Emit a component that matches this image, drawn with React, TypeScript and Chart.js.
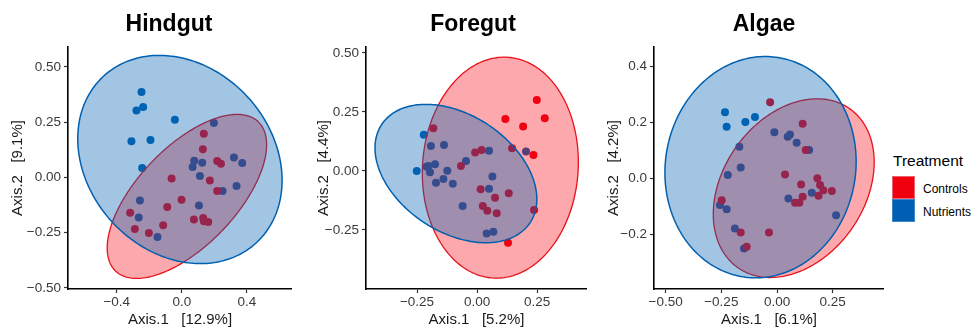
import React, { useEffect, useRef } from 'react';
import { Chart, registerables } from 'chart.js';

Chart.register(...registerables);

const FONT = "'Liberation Sans', Arial, Helvetica, sans-serif";

// ---------- Data ----------
const treatments = ['Controls', 'Nutrients'];

// Hindgut
const hindgutControls: [number, number][] = [
  [0.135, 0.198], [0.129, 0.127], [0.217, 0.074], [0.24, 0.062], [-0.063, -0.005],
  [0.172, -0.014], [0.217, -0.062], [-0.002, -0.101], [-0.09, -0.134], [-0.318, -0.16],
  [-0.289, -0.234], [-0.203, -0.252], [-0.115, -0.217], [0.074, -0.19], [0.131, -0.184],
  [0.135, -0.198], [0.162, -0.202],
];
const hindgutNutrients: [number, number][] = [
  [-0.248, 0.386], [-0.279, 0.303], [-0.238, 0.318], [-0.043, 0.261], [-0.31, 0.163],
  [-0.193, 0.169], [0.197, 0.246], [-0.244, 0.042], [0.076, 0.075], [0.125, 0.066],
  [0.066, 0.047], [0.111, 0.006], [0.32, 0.09], [0.371, 0.065], [0.336, -0.039],
  [0.25, -0.062], [-0.258, -0.104], [0.105, -0.127], [-0.265, -0.182], [-0.15, -0.27],
];
// ellipse: [centre x, centre y, half-width, half-height, tilt]
const hindgutControlsEllipse = [0.031, -0.086, 0.49, 0.371, 0.63];
const hindgutNutrientsEllipse = [-0.012, 0.081, 0.628, 0.471, -0.2];
const hindgutXTicks = [-0.4, 0, 0.4];
const hindgutYTicks = [-0.5, -0.25, 0, 0.25, 0.5];

// Foregut
const foregutControls: [number, number][] = [
  [0.249, 0.3], [0.118, 0.22], [0.282, 0.223], [0.192, 0.188], [0.235, 0.068],
  [0.146, 0.096], [0.132, -0.094], [0.2375, -0.165], [0.129, -0.304], [-0.182, 0.181],
  [-0.008, 0.078], [0.019, 0.089], [-0.067, 0.021], [0.015, -0.078], [0.075, -0.113],
  [0.024, -0.148], [0.043, -0.169], [0.082, -0.179],
];
const foregutNutrients: [number, number][] = [
  [-0.222, 0.153], [-0.251, 0.0], [-0.192, 0.106], [-0.1375, 0.11], [-0.203, 0.021],
  [-0.175, 0.028], [-0.196, -0.006], [-0.21, 0.018], [-0.124, 0.001], [-0.171, -0.05],
  [-0.14, -0.034], [-0.101, -0.054], [-0.046, 0.042], [0.05, 0.086], [0.064, -0.023],
  [0.05, -0.075], [-0.06, -0.148], [0.04, -0.265], [0.068, -0.257], [0.204, 0.082],
];
const foregutControlsEllipse = [0.097, 0.014, 0.325, 0.468, 0.05];
const foregutNutrientsEllipse = [-0.088, -0.011, 0.337, 0.293, -0.37];
const foregutXTicks = [-0.25, 0, 0.25];
const foregutYTicks = [-0.25, 0, 0.25, 0.5];

// Algae
const algaeControls: [number, number][] = [
  [-0.031, 0.271], [0.115, 0.194], [0.129, 0.1], [0.036, 0.013], [0.108, -0.023],
  [0.181, -0.001], [0.193, -0.025], [0.208, -0.043], [0.246, -0.046], [0.186, -0.063],
  [0.115, -0.067], [0.081, -0.088], [0.1, -0.088], [-0.248, -0.079], [-0.163, -0.194],
  [-0.036, -0.194], [-0.136, -0.245],
];
const algaeNutrients: [number, number][] = [
  [-0.2335, 0.235], [-0.226, 0.183], [-0.142, 0.2], [-0.099, 0.218], [-0.012, 0.164],
  [0.048, 0.148], [0.058, 0.156], [0.088, 0.126], [0.144, 0.1], [-0.169, 0.112],
  [-0.163, 0.038], [-0.221, 0.011], [-0.256, -0.096], [-0.226, -0.111], [-0.189, -0.18],
  [-0.148, -0.251], [0.051, -0.073], [0.156, -0.052], [0.265, -0.133],
];
const algaeControlsEllipse = [0.075, -0.036, 0.361, 0.319, 0.29];
const algaeNutrientsEllipse = [-0.074, 0.039, 0.429, 0.395, 0.05];
const algaeXTicks = [-0.5, -0.25, 0, 0.25];
const algaeYTicks = [-0.2, 0, 0.2, 0.4];

// ---------- Styles ----------
const RED = '#EC0014';
const BLUE = '#0062B2';
const RED_FILL = 'rgba(248, 0, 12, 0.34)';
const BLUE_FILL = 'rgba(0, 98, 178, 0.37)';
const RED_STROKE = '#E8101A';
const BLUE_STROKE = '#0060B0';

const fmt = (v: number, dec: number) => (v < 0 ? '\u2212' : '') + Math.abs(v).toFixed(dec);

const ellipsePlugin = {
  id: 'groupEllipses',
  afterDatasetsDraw(chart: any, _args: any, opts: any) {
    const { ctx, chartArea, scales } = chart;
    const xs = scales.x;
    const ys = scales.y;
    ctx.save();
    ctx.beginPath();
    ctx.rect(chartArea.left, chartArea.top, chartArea.right - chartArea.left, chartArea.bottom - chartArea.top);
    ctx.clip();
    (opts.items || []).forEach((item: any) => {
      const [cx, cy, rx, ry, tilt] = item.params;
      const phi = Math.acos(tilt);
      const N = 240;
      ctx.beginPath();
      for (let i = 0; i <= N; i++) {
        const t = (i / N) * Math.PI * 2;
        const px = xs.getPixelForValue(cx + rx * Math.cos(t));
        const py = ys.getPixelForValue(cy + ry * Math.cos(t - phi));
        if (i === 0) ctx.moveTo(px, py);
        else ctx.lineTo(px, py);
      }
      ctx.closePath();
      ctx.fillStyle = item.fill;
      ctx.fill();
      ctx.strokeStyle = item.stroke;
      ctx.lineWidth = item.lineWidth;
      ctx.stroke();
    });
    ctx.restore();
  },
};

type PanelProps = {
  left: number;
  width: number;
  yAxisWidth: number;
  yTitlePad: number;
  controls: [number, number][];
  nutrients: [number, number][];
  controlsEllipse: number[];
  nutrientsEllipse: number[];
  xTicks: number[];
  yTicks: number[];
  xDec: number;
  yDec: number;
  xMin: number;
  xMax: number;
  yMin: number;
  yMax: number;
  xLabel: string;
  yLabel: string;
};

function Panel(p: PanelProps) {
  const ref = useRef<HTMLCanvasElement>(null);
  useEffect(() => {
    const canvas = ref.current;
    if (!canvas) return;
    const chart = new Chart(canvas, {
      type: 'scatter',
      data: {
        datasets: [
          {
            label: treatments[0],
            data: p.controls.map(([x, y]) => ({ x, y })),
            backgroundColor: RED,
            borderWidth: 0,
            pointRadius: 4,
          },
          {
            label: treatments[1],
            data: p.nutrients.map(([x, y]) => ({ x, y })),
            backgroundColor: BLUE,
            borderWidth: 0,
            pointRadius: 4,
          },
        ],
      },
      options: {
        animation: false,
        responsive: false,
        devicePixelRatio: 1,
        events: [],
        layout: { padding: { left: 0, right: 0, top: 47, bottom: 0 }, autoPadding: false },
        plugins: {
          legend: { display: false },
          title: { display: false },
          tooltip: { enabled: false },
          groupEllipses: {
            items: [
              { params: p.controlsEllipse, fill: RED_FILL, stroke: RED_STROKE, lineWidth: 1.3 },
              { params: p.nutrientsEllipse, fill: BLUE_FILL, stroke: BLUE_STROKE, lineWidth: 1.5 },
            ],
          },
        } as any,
        scales: {
          x: {
            type: 'linear',
            min: p.xMin,
            max: p.xMax,
            afterBuildTicks: (s: any) => {
              s.ticks = p.xTicks.map((v) => ({ value: v }));
            },
            afterFit: (s: any) => {
              s.height = 41;
            },
            grid: { drawOnChartArea: false, drawTicks: true, tickLength: 4, tickColor: '#333', tickWidth: 1.2 },
            border: { display: true, color: '#000', width: 1.6 },
            ticks: {
              padding: 1,
              color: '#3a3a3a',
              font: { family: FONT, size: 13.5 },
              maxRotation: 0,
              autoSkip: false,
              callback: (v: any) => fmt(Number(v), p.xDec),
            },
            title: {
              display: true,
              text: p.xLabel,
              color: '#1a1a1a',
              font: { family: FONT, size: 15 },
              padding: { top: 0, bottom: 1 },
            },
          },
          y: {
            type: 'linear',
            min: p.yMin,
            max: p.yMax,
            afterBuildTicks: (s: any) => {
              s.ticks = p.yTicks.map((v) => ({ value: v }));
            },
            afterFit: (s: any) => {
              s.width = p.yAxisWidth;
            },
            grid: { drawOnChartArea: false, drawTicks: true, tickLength: 4, tickColor: '#333', tickWidth: 1.2 },
            border: { display: true, color: '#000', width: 1.6 },
            ticks: {
              padding: 3,
              color: '#3a3a3a',
              font: { family: FONT, size: 13.5 },
              autoSkip: false,
              callback: (v: any) => fmt(Number(v), p.yDec),
            },
            title: {
              display: true,
              text: p.yLabel,
              color: '#1a1a1a',
              font: { family: FONT, size: 15 },
              padding: { top: p.yTitlePad, bottom: 0 },
            },
          },
        },
      } as any,
      plugins: [ellipsePlugin as any],
    });
    return () => chart.destroy();
  }, []);
  return (
    <canvas
      ref={ref}
      width={p.width}
      height={330}
      style={{ position: 'absolute', left: p.left, top: 0, width: p.width, height: 330 }}
    />
  );
}

const titleStyle = (center: number): React.CSSProperties => ({
  position: 'absolute',
  left: center - 100,
  width: 200,
  top: 10,
  textAlign: 'center',
  fontFamily: FONT,
  fontWeight: 'bold',
  fontSize: 23,
  lineHeight: '27px',
  color: '#000',
});

export default function App() {
  return (
    <div
      style={{
        position: 'absolute',
        left: 0,
        top: 0,
        width: 979,
        height: 330,
        background: '#fff',
        overflow: 'hidden',
      }}
    >
      <Panel
        left={0}
        width={292}
        yAxisWidth={68}
        yTitlePad={8.5}
        controls={hindgutControls}
        nutrients={hindgutNutrients}
        controlsEllipse={hindgutControlsEllipse}
        nutrientsEllipse={hindgutNutrientsEllipse}
        xTicks={hindgutXTicks}
        yTicks={hindgutYTicks}
        xDec={1}
        yDec={2}
        xMin={-0.7}
        xMax={0.677}
        yMin={-0.505}
        yMax={0.59}
        xLabel="Axis.1   [12.9%]"
        yLabel="Axis.2   [9.1%]"
      />
      <Panel
        left={292}
        width={295}
        yAxisWidth={74}
        yTitlePad={22.5}
        controls={foregutControls}
        nutrients={foregutNutrients}
        controlsEllipse={foregutControlsEllipse}
        nutrientsEllipse={foregutNutrientsEllipse}
        xTicks={foregutXTicks}
        yTicks={foregutYTicks}
        xDec={2}
        yDec={2}
        xMin={-0.4625}
        xMax={0.458}
        yMin={-0.5}
        yMax={0.525}
        xLabel="Axis.1   [5.2%]"
        yLabel="Axis.2   [4.4%]"
      />
      <Panel
        left={590}
        width={294}
        yAxisWidth={64}
        yTitlePad={14.5}
        controls={algaeControls}
        nutrients={algaeNutrients}
        controlsEllipse={algaeControlsEllipse}
        nutrientsEllipse={algaeNutrientsEllipse}
        xTicks={algaeXTicks}
        yTicks={algaeYTicks}
        xDec={2}
        yDec={1}
        xMin={-0.552}
        xMax={0.48}
        yMin={-0.396}
        yMax={0.468}
        xLabel="Axis.1   [6.1%]"
        yLabel="Axis.2   [4.2%]"
      />
      <div style={titleStyle(169)}>Hindgut</div>
      <div style={titleStyle(473)}>Foregut</div>
      <div style={titleStyle(764)}>Algae</div>

      {/* Legend */}
      <div
        style={{
          position: 'absolute',
          left: 893,
          top: 152,
          fontFamily: FONT,
          fontSize: 15.5,
          lineHeight: '18px',
          color: '#000',
          whiteSpace: 'nowrap',
        }}
      >
        Treatment
      </div>
      {treatments.map((t, i) => (
        <React.Fragment key={t}>
          <div
            style={{
              position: 'absolute',
              left: 892,
              top: 176 + i * 23,
              width: 23,
              height: 23,
              boxSizing: 'border-box',
              background: i === 0 ? '#F0000E' : '#005EB3',
              border: `1px solid ${i === 0 ? '#F06070' : '#3f86c8'}`,
            }}
          />
          <div
            style={{
              position: 'absolute',
              left: 923,
              top: 182 + i * 23,
              fontFamily: FONT,
              fontSize: 12,
              lineHeight: '14px',
              color: '#000',
              whiteSpace: 'nowrap',
            }}
          >
            {t}
          </div>
        </React.Fragment>
      ))}
    </div>
  );
}
